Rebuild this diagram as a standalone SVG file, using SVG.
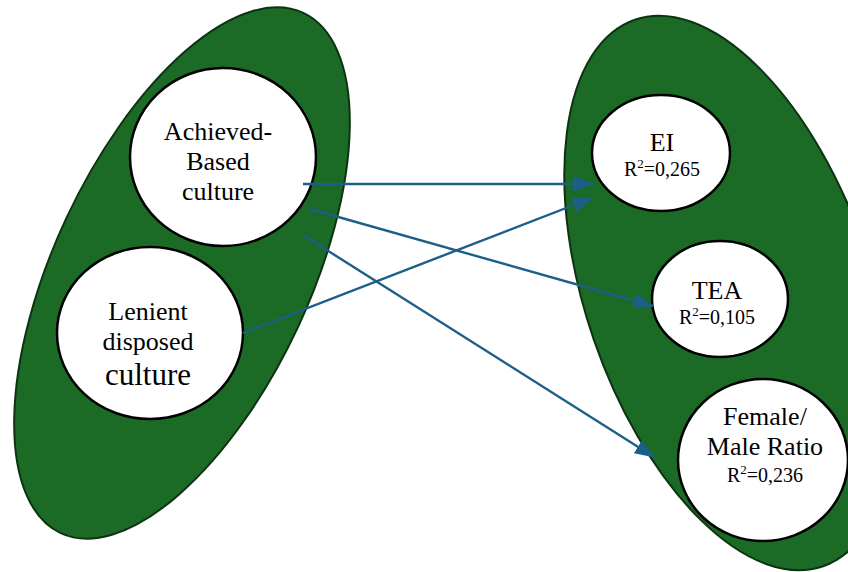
<svg xmlns="http://www.w3.org/2000/svg" width="848" height="572" viewBox="0 0 848 572">
<style>
.group{fill:#1b6a25;stroke:#0d3312;stroke-width:2}
.node{fill:#ffffff;stroke:#000000;stroke-width:2.5}
text{font-family:'Liberation Serif','DejaVu Serif',serif;fill:#000;text-anchor:middle}
.edge{stroke:#1c5f88;stroke-width:2.4;fill:none}
</style>
<defs>
<marker id="ah" markerUnits="userSpaceOnUse" markerWidth="20" markerHeight="15" refX="19" refY="7.5" orient="auto">
<path d="M0,0 L20,7.5 L0,15 Z" fill="#1c5f88"/>
</marker>
</defs>
<rect width="848" height="572" fill="#ffffff"/>
<g id="left-group">
<ellipse class="group" cx="182" cy="273" rx="128" ry="287" transform="rotate(25 182 273)"/>
</g>
<g id="right-group">
<ellipse class="group" cx="729" cy="293" rx="143" ry="289" transform="rotate(-19 729 293)"/>
</g>
<g id="achieved">
<ellipse class="node" cx="223" cy="157" rx="93" ry="89"/>
<text font-size="26" x="218" y="140">Achieved-</text>
<text font-size="26" x="218" y="170">Based</text>
<text font-size="26" x="218" y="200">culture</text>
</g>
<g id="lenient">
<ellipse class="node" cx="150" cy="333" rx="93" ry="86"/>
<text font-size="26" x="148" y="320">Lenient</text>
<text font-size="26" x="148" y="350">disposed</text>
<text font-size="31" x="148" y="385">culture</text>
</g>
<g id="ei">
<ellipse class="node" cx="661" cy="153" rx="69" ry="58"/>
<text font-size="26" x="662" y="151">EI</text>
<text font-size="20" x="662" y="176">R<tspan font-size="13" dy="-8">2</tspan><tspan dy="8">=0,265</tspan></text>
</g>
<g id="tea">
<ellipse class="node" cx="720" cy="299" rx="68" ry="58"/>
<text font-size="26" x="717" y="299">TEA</text>
<text font-size="20" x="717" y="324">R<tspan font-size="13" dy="-8">2</tspan><tspan dy="8">=0,105</tspan></text>
</g>
<g id="female">
<ellipse class="node" cx="763" cy="460" rx="85" ry="81"/>
<text font-size="26" x="765" y="425">Female/</text>
<text font-size="26" x="765" y="455">Male Ratio</text>
<text font-size="20" x="765" y="482">R<tspan font-size="13" dy="-8">2</tspan><tspan dy="8">=0,236</tspan></text>
</g>
<g id="connectors">
<line class="edge" x1="303" y1="184" x2="593" y2="184" marker-end="url(#ah)"/>
<line class="edge" x1="243" y1="333" x2="592" y2="198" marker-end="url(#ah)"/>
<line class="edge" x1="310" y1="209" x2="653" y2="306" marker-end="url(#ah)"/>
<line class="edge" x1="303" y1="235" x2="654" y2="457" marker-end="url(#ah)"/>
</g>
</svg>
